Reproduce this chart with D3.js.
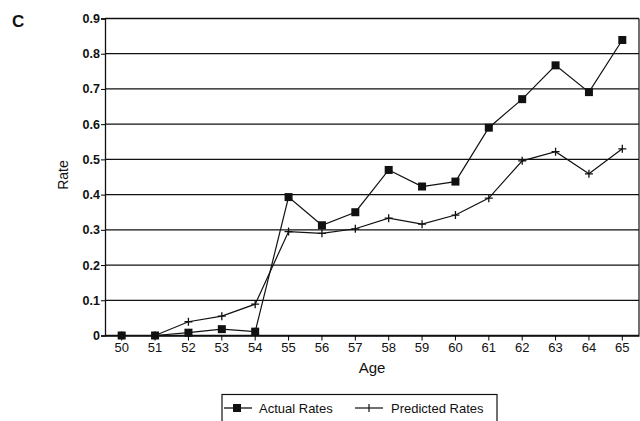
<!DOCTYPE html>
<html><head><meta charset="utf-8">
<script src="https://cdn.jsdelivr.net/npm/d3@7"></script>
<style>body{margin:0;background:#fff}svg{display:block}text{font-family:"Liberation Sans",Arial,sans-serif;fill:#111}</style>
</head><body><svg id="c" width="640" height="421"></svg>
<script>
const ages = [50,51,52,53,54,55,56,57,58,59,60,61,62,63,64,65];
const actualRates = [0,0,0.008,0.018,0.011,0.393,0.313,0.35,0.47,0.423,0.437,0.59,0.671,0.767,0.691,0.839];
const predictedRates = [0,0,0.039,0.055,0.089,0.295,0.29,0.303,0.333,0.316,0.342,0.39,0.496,0.522,0.459,0.53];
const yTicks = [0,0.1,0.2,0.3,0.4,0.5,0.6,0.7,0.8,0.9];

const svg = d3.select("#c");
const m = {l:105, r:639, t:18.5, b:335.5};
const x = d3.scaleBand().domain(ages).range([m.l, m.r]);
const cx = d => x(d) + x.bandwidth()/2;
const y = d3.scaleLinear().domain([0,0.9]).range([m.b, m.t]);

svg.append("g").selectAll("line").data(yTicks).join("line")
  .attr("x1", m.l).attr("x2", m.r).attr("y1", d=>y(d)).attr("y2", d=>y(d))
  .attr("stroke","#111").attr("stroke-width",1.3);
svg.append("line").attr("x1",m.r).attr("x2",m.r).attr("y1",m.t).attr("y2",m.b).attr("stroke","#111").attr("stroke-width",1.2);

const ya = d3.axisLeft(y).tickValues(yTicks).tickSize(4).tickFormat(d=> d===0 ? "0" : d3.format(".1f")(d));
const yg = svg.append("g").attr("transform",`translate(${m.l},0)`).call(ya);
yg.select(".domain").attr("stroke","#111").attr("stroke-width",1.3);
yg.selectAll("text").attr("font-size",12.5).attr("x",-5).attr("font-weight","bold");

const xa = d3.axisBottom(x).tickSize(5).tickSizeOuter(0);
const xg = svg.append("g").attr("transform",`translate(0,${m.b})`).call(xa);
xg.select(".domain").attr("stroke","#111").attr("stroke-width",1.3);
xg.selectAll("text").attr("font-size",13).attr("y",7);

const line = d3.line().x((d,i)=>cx(ages[i])).y(d=>y(d));
svg.append("path").datum(actualRates).attr("d",line).attr("fill","none").attr("stroke","#111").attr("stroke-width",1.2);
svg.append("path").datum(predictedRates).attr("d",line).attr("fill","none").attr("stroke","#111").attr("stroke-width",1.2);

svg.append("g").selectAll("path").data(predictedRates).join("path")
  .attr("d",(d,i)=>{const px=cx(ages[i]),py=y(d);return `M${px-4},${py}H${px+4}M${px},${py-4}V${py+4}`;})
  .attr("stroke","#111").attr("stroke-width",1.3);
svg.append("g").selectAll("rect").data(actualRates).join("rect")
  .attr("x",(d,i)=>cx(ages[i])-4).attr("y",d=>y(d)-4).attr("width",8).attr("height",8).attr("fill","#111");

svg.append("text").attr("x",12).attr("y",27).attr("font-size",17).attr("font-weight","bold").text("C");
svg.append("text").attr("transform","translate(67.5,175) rotate(-90)").attr("text-anchor","middle").attr("font-size",14).text("Rate");
svg.append("text").attr("x",372).attr("y",373).attr("text-anchor","middle").attr("font-size",15).text("Age");

const lg = svg.append("g");
lg.append("rect").attr("x",222).attr("y",394.5).attr("width",275).attr("height",30).attr("fill","none").attr("stroke","#111").attr("stroke-width",1.2);
lg.append("line").attr("x1",224).attr("x2",252).attr("y1",408).attr("y2",408).attr("stroke","#111").attr("stroke-width",1.3);
lg.append("rect").attr("x",233).attr("y",404).attr("width",8).attr("height",8).attr("fill","#111");
lg.append("text").attr("x",259).attr("y",412.5).attr("font-size",13).text("Actual Rates");
lg.append("line").attr("x1",355).attr("x2",383).attr("y1",408).attr("y2",408).attr("stroke","#111").attr("stroke-width",1.2);
lg.append("line").attr("x1",369).attr("x2",369).attr("y1",404).attr("y2",412).attr("stroke","#111").attr("stroke-width",1.2);
lg.append("text").attr("x",391).attr("y",412.5).attr("font-size",13).text("Predicted Rates");
</script></body></html>
